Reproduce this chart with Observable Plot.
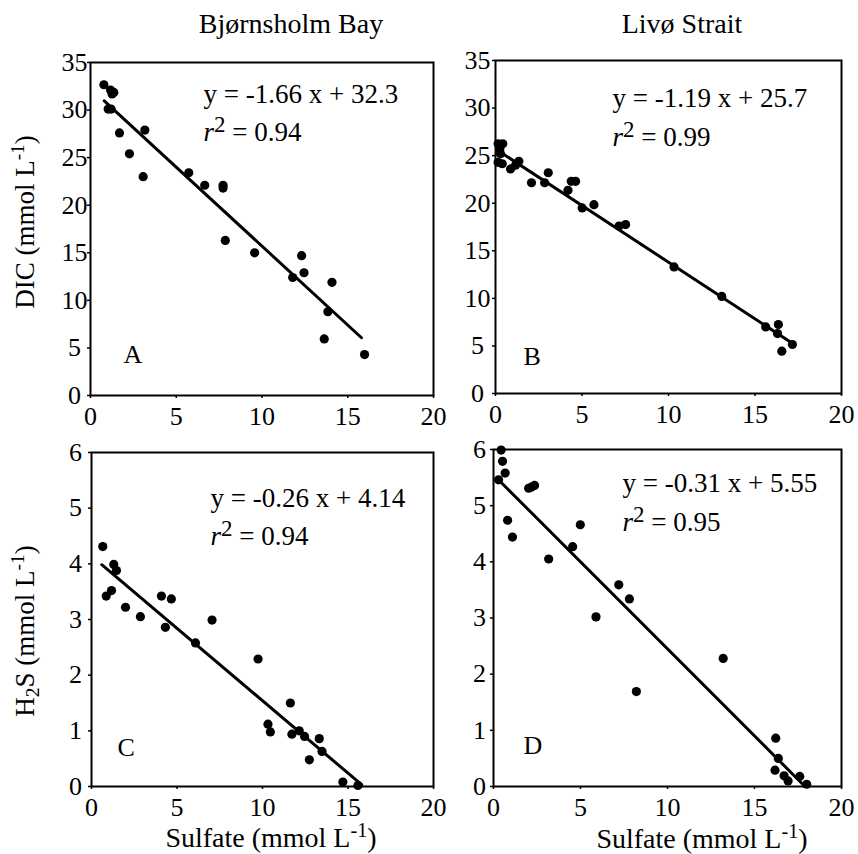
<!DOCTYPE html>
<html><head><meta charset="utf-8">
<script src="https://cdn.jsdelivr.net/npm/d3@7"></script>
<script src="https://cdn.jsdelivr.net/npm/@observablehq/plot@0.6"></script>
<style>
body{margin:0;background:#fff;}
#fig{position:relative;width:858px;height:854px;overflow:hidden;font-family:"Liberation Serif",serif;color:#000;background:#fff;}
#fig svg, #fig svg text, #fig svg g {font-family:"Liberation Serif",serif !important;}
.lab{position:absolute;font-size:28px;line-height:1;white-space:nowrap;font-family:"Liberation Serif",serif;}
.lab sup{font-size:0.72em;vertical-align:0;position:relative;top:-0.5em;}
.lab sub{font-size:0.72em;vertical-align:0;position:relative;top:0.25em;}
</style></head><body><div id="fig"></div>
<script>
// ---- tick labels ----
const xTicks = [0, 5, 10, 15, 20];
const dicTicks = [0, 5, 10, 15, 20, 25, 30, 35];
const h2sTicks = [0, 1, 2, 3, 4, 5, 6];

// ---- panel A: Bjørnsholm Bay, DIC vs sulfate ----
const aSulfate = [0.78,1.17,1.36,1.26,1.03,1.2,1.69,3.17,2.27,3.07,5.73,6.66,7.73,7.73,7.86,9.57,11.79,12.31,12.45,14.08,13.84,13.63,15.98];
const aDIC     = [32.66,32.1,31.85,31.7,30.1,30.1,27.6,27.9,25.4,23.0,23.4,22.1,22.1,21.8,16.3,15.0,12.4,14.7,12.9,11.9,8.8,5.95,4.3];
// ---- panel B: Livø Strait, DIC vs sulfate ----
const bSulfate = [0.15,0.42,0.25,0.29,0.15,0.39,0.87,1.16,1.35,2.08,2.84,3.05,4.19,4.38,4.63,5.01,5.69,7.14,7.52,10.32,13.08,15.62,16.35,16.3,16.55,17.16];
const bDIC     = [26.25,26.25,25.7,25.2,24.3,24.15,23.6,24.0,24.4,22.15,22.15,23.2,21.35,22.3,22.3,19.5,19.85,17.6,17.75,13.3,10.2,7.0,7.25,6.3,4.45,5.15];
// ---- panel C: Bjørnsholm Bay, H2S vs sulfate ----
const cSulfate = [0.66,1.30,1.46,0.86,1.17,1.99,2.86,4.09,4.67,4.32,6.08,7.05,9.74,10.32,10.46,11.63,11.72,12.15,12.46,13.32,13.48,12.74,14.70,15.58];
const cH2S     = [4.31,3.99,3.88,3.42,3.52,3.22,3.05,3.42,3.37,2.86,2.58,2.99,2.29,1.12,0.98,1.5,0.94,1.0,0.9,0.86,0.63,0.48,0.08,0.02];
// ---- panel D: Livø Strait, H2S vs sulfate ----
const dSulfate = [0.44,0.52,0.67,0.29,2.02,2.17,2.36,0.81,1.09,4.99,4.55,3.17,7.2,7.81,5.89,13.2,8.21,16.22,16.37,16.18,16.7,16.93,17.6,18.0];
const dH2S     = [5.99,5.79,5.58,5.46,5.31,5.33,5.36,4.74,4.44,4.66,4.27,4.05,3.59,3.34,3.02,2.28,1.69,0.86,0.50,0.29,0.19,0.10,0.18,0.04];

// regression equations (as printed) and the x-extent of each fitted line
const slopes = [-1.66, -1.19, -0.26, -0.31];
const intercepts = [32.3, 25.7, 4.14, 5.55];
const fitRanges = [[0.8, 15.8], [0.1, 17.2], [0.6, 15.8], [0.2, 17.9]];
const eqTexts = ["y = -1.66 x + 32.3", "y = -1.19 x + 25.7", "y = -0.26 x + 4.14", "y = -0.31 x + 5.55"];
const r2Texts = ["r2 = 0.94", "r2 = 0.99", "r2 = 0.94", "r2 = 0.95"];
const letters = ["A", "B", "C", "D"];
// annotation anchors in data units: [eqX, eqY, r2Y, letterX, letterY]
const annotPos = [
  [6.59, 31.6, 27.7, 1.92, 4.24],
  [6.76, 31.07, 26.97, 1.62, 3.82],
  [6.96, 5.17, 4.50, 1.52, 0.706],
  [7.41, 5.39, 4.71, 1.72, 0.735]
];

const panels = [
  {xs: aSulfate, ys: aDIC, yDomain: [0, 35], yTicks: dicTicks, left: 0,   top: 0,   w: 445, h: 430, ml: 90, mt: 62, mr: 12, mb: 35, pad: 13},
  {xs: bSulfate, ys: bDIC, yDomain: [0, 35], yTicks: dicTicks, left: 445, top: 0,   w: 413, h: 430, ml: 50, mt: 60, mr: 17, mb: 37, pad: 15},
  {xs: cSulfate, ys: cH2S, yDomain: [0, 6],  yTicks: h2sTicks, left: 0,   top: 420, w: 445, h: 434, ml: 91, mt: 32, mr: 12, mb: 68, pad: 13},
  {xs: dSulfate, ys: dH2S, yDomain: [0, 6],  yTicks: h2sTicks, left: 445, top: 420, w: 413, h: 434, ml: 48, mt: 29, mr: 17, mb: 68, pad: 11}
];

const fig = document.getElementById("fig");
const serif = '"Liberation Serif", serif';

panels.forEach((p, i) => {
  const pts = p.xs.map((x, k) => ({x, y: p.ys[k]}));
  const fit = fitRanges[i].map(x => ({x, y: slopes[i] * x + intercepts[i]}));
  const a = annotPos[i];
  const notes = [
    {x: a[0], y: a[1], t: eqTexts[i]},
    {x: a[0], y: a[2], t: r2Texts[i]}
  ];
  const svg = Plot.plot({
    width: p.w, height: p.h,
    marginLeft: p.ml, marginTop: p.mt, marginRight: p.mr, marginBottom: p.mb,
    style: {fontFamily: serif, fontSize: "26px", color: "#000", background: "transparent", overflow: "visible"},
    x: {domain: [0, 20]},
    y: {domain: p.yDomain},
    marks: [
      Plot.axisX({ticks: xTicks, tickFormat: d => String(d), tickSize: 3, tickPadding: 8, label: null, strokeWidth: 1.5, fontSize: 26}),
      Plot.axisY({ticks: p.yTicks, tickFormat: d => String(d), tickSize: 3, tickPadding: p.pad, textAnchor: "middle", label: null, strokeWidth: 1.5, fontSize: 26}),
      Plot.frame({stroke: "#000", strokeWidth: 2}),
      Plot.line(fit, {x: "x", y: "y", stroke: "#000", strokeWidth: 3}),
      Plot.dot(pts, {x: "x", y: "y", r: 4.6, fill: "#000", stroke: "none"}),
      Plot.text(notes, {x: "x", y: "y", text: "t", textAnchor: "start", lineAnchor: "middle", fontSize: 27, fill: "#000", fontFamily: serif}),
      Plot.text([{x: a[3], y: a[4], t: letters[i]}], {x: "x", y: "y", text: "t", textAnchor: "start", lineAnchor: "middle", fontSize: 26, fill: "#000", fontFamily: serif})
    ]
  });
  // r² with italic r and superscript 2
  d3.select(svg).selectAll("text").each(function() {
    const t = this.textContent;
    if (/^r2 = /.test(t)) {
      const rest = t.slice(2);
      const s = d3.select(this);
      s.text(null);
      s.append("tspan").attr("font-style", "italic").text("r");
      s.append("tspan").attr("font-size", "23px").attr("dy", "-9px").text("2");
      s.append("tspan").attr("dy", "9px").text(rest);
    }
  });
  svg.style.position = "absolute";
  svg.style.left = p.left + "px";
  svg.style.top = p.top + "px";
  svg.style.maxWidth = "none";
  fig.appendChild(svg);
});

// titles and axis labels
function addLabel(html, css) {
  const d = document.createElement("div");
  d.className = "lab";
  d.innerHTML = html;
  Object.assign(d.style, css);
  fig.appendChild(d);
}
addLabel("Bjørnsholm Bay", {left: "291px", top: "10px", transform: "translateX(-50%)"});
addLabel("Livø Strait", {left: "682px", top: "10px", transform: "translateX(-50%)"});
addLabel("DIC (mmol L<sup>-1</sup>)", {left: "25px", top: "222px", transform: "translate(-50%,-50%) rotate(-90deg)", fontSize: "27px"});
addLabel("H<sub>2</sub>S (mmol L<sup>-1</sup>)", {left: "25px", top: "631px", transform: "translate(-50%,-50%) rotate(-90deg)", fontSize: "27px"});
addLabel("Sulfate (mmol L<sup>-1</sup>)", {left: "271px", top: "824px", transform: "translateX(-50%)"});
addLabel("Sulfate (mmol L<sup>-1</sup>)", {left: "702px", top: "825px", transform: "translateX(-50%)"});
</script></body></html>
